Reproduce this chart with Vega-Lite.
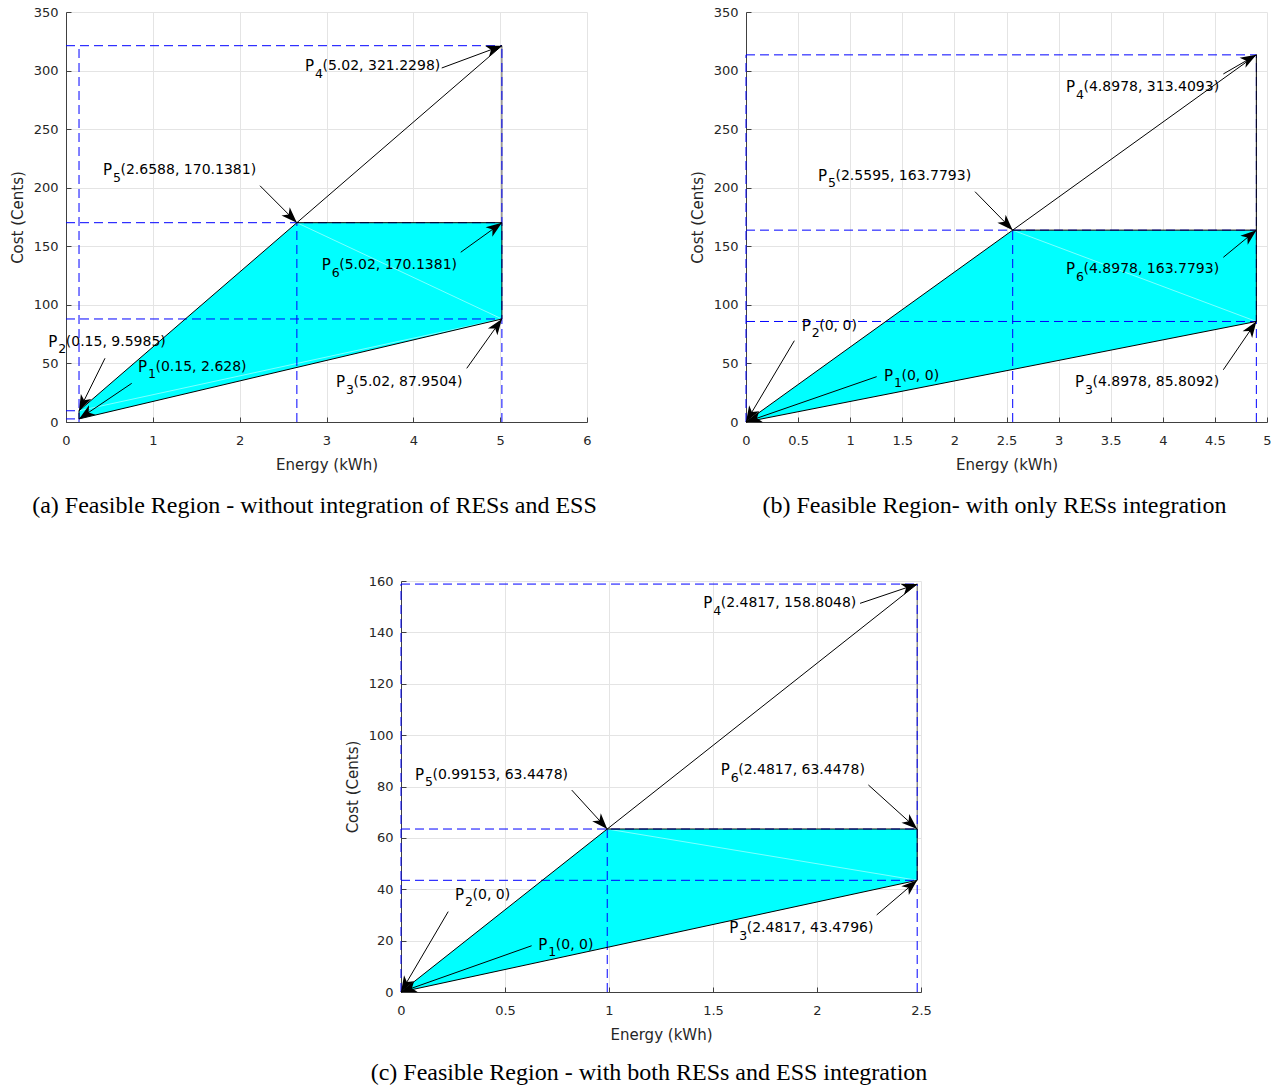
{
  "$schema": "https://vega.github.io/schema/vega-lite/v6.json",
  "background": "white",
  "padding": {"left": 10, "top": 6, "right": 2, "bottom": 0},
  "config": {
    "view": {"stroke": null},
    "font": "DejaVu Sans",
    "axis": {
      "grid": true, "gridColor": "#e4e4e4", "gridWidth": 1,
      "domainColor": "#404040", "domainWidth": 1,
      "tickColor": "#404040", "tickSize": -5, "tickWidth": 1,
      "labelFont": "DejaVu Sans", "labelFontSize": 13, "labelColor": "#262626",
      "labelFlush": false, "labelOverlap": false,
      "titleFont": "DejaVu Sans", "titleFontSize": 15, "titleFontWeight": "normal", "titleColor": "#262626"
    },
    "axisX": {"labelPadding": 17, "titlePadding": 10},
    "axisY": {"labelPadding": 13, "titlePadding": 8},
    "title": {"font": "Liberation Serif", "fontSize": 24, "fontWeight": "normal", "color": "#000000"}
  },
  "datasets": {
    "poly": [
      {"p": "a", "k": 1, "x": 0.15, "y": 2.628},
      {"p": "a", "k": 2, "x": 0.15, "y": 9.5985},
      {"p": "a", "k": 3, "x": 2.6588, "y": 170.1381},
      {"p": "a", "k": 4, "x": 5.02, "y": 170.1381},
      {"p": "a", "k": 5, "x": 5.02, "y": 87.9504},
      {"p": "b", "k": 1, "x": 0, "y": 0},
      {"p": "b", "k": 2, "x": 2.5595, "y": 163.7793},
      {"p": "b", "k": 3, "x": 4.8978, "y": 163.7793},
      {"p": "b", "k": 4, "x": 4.8978, "y": 85.8092},
      {"p": "c", "k": 1, "x": 0, "y": 0},
      {"p": "c", "k": 2, "x": 0.99153, "y": 63.4478},
      {"p": "c", "k": 3, "x": 2.4817, "y": 63.4478},
      {"p": "c", "k": 4, "x": 2.4817, "y": 43.4796}
    ],
    "seam": [
      {"p": "a", "x": 0.15, "y": 9.5985, "x2": 5.02, "y2": 87.9504},
      {"p": "a", "x": 2.6588, "y": 170.1381, "x2": 5.02, "y2": 87.9504},
      {"p": "b", "x": 2.5595, "y": 163.7793, "x2": 4.8978, "y2": 85.8092},
      {"p": "c", "x": 0.99153, "y": 63.4478, "x2": 2.4817, "y2": 43.4796}
    ],
    "gray": [
      {"p": "a", "x": 5.02, "y": 321.2298, "x2": 5.02, "y2": 170.1381},
      {"p": "c", "x": 2.4817, "y": 158.8048, "x2": 2.4817, "y2": 63.4478}
    ],
    "dash": [
      {"p": "a", "x": 0, "y": 321.2298, "x2": 5.02, "y2": 321.2298},
      {"p": "a", "x": 0, "y": 170.1381, "x2": 5.02, "y2": 170.1381},
      {"p": "a", "x": 0, "y": 87.9504, "x2": 5.02, "y2": 87.9504},
      {"p": "a", "x": 0, "y": 9.5985, "x2": 0.15, "y2": 9.5985},
      {"p": "a", "x": 0, "y": 2.628, "x2": 0.15, "y2": 2.628},
      {"p": "a", "x": 0.15, "y": 0, "x2": 0.15, "y2": 321.2298},
      {"p": "a", "x": 2.6588, "y": 0, "x2": 2.6588, "y2": 170.1381},
      {"p": "a", "x": 5.02, "y": 0, "x2": 5.02, "y2": 321.2298},
      {"p": "b", "x": 0, "y": 313.4093, "x2": 4.8978, "y2": 313.4093},
      {"p": "b", "x": 0, "y": 163.7793, "x2": 4.8978, "y2": 163.7793},
      {"p": "b", "x": 0, "y": 85.8092, "x2": 4.8978, "y2": 85.8092},
      {"p": "b", "x": 0, "y": 0, "x2": 0, "y2": 313.4093},
      {"p": "b", "x": 2.5595, "y": 0, "x2": 2.5595, "y2": 163.7793},
      {"p": "b", "x": 4.8978, "y": 0, "x2": 4.8978, "y2": 313.4093},
      {"p": "c", "x": 0, "y": 158.8048, "x2": 2.4817, "y2": 158.8048},
      {"p": "c", "x": 0, "y": 63.4478, "x2": 2.4817, "y2": 63.4478},
      {"p": "c", "x": 0, "y": 43.4796, "x2": 2.4817, "y2": 43.4796},
      {"p": "c", "x": 0, "y": 0, "x2": 0, "y2": 158.8048},
      {"p": "c", "x": 0.99153, "y": 0, "x2": 0.99153, "y2": 63.4478},
      {"p": "c", "x": 2.4817, "y": 0, "x2": 2.4817, "y2": 158.8048}
    ],
    "edge": [
      {"p": "a", "x": 0.15, "y": 2.628, "x2": 5.02, "y2": 87.9504},
      {"p": "a", "x": 0.15, "y": 9.5985, "x2": 5.02, "y2": 321.2298},
      {"p": "a", "x": 2.6588, "y": 170.1381, "x2": 5.02, "y2": 170.1381},
      {"p": "a", "x": 5.02, "y": 170.1381, "x2": 5.02, "y2": 87.9504},
      {"p": "a", "x": 0.15, "y": 2.628, "x2": 0.15, "y2": 9.5985},
      {"p": "b", "x": 0, "y": 0, "x2": 4.8978, "y2": 85.8092},
      {"p": "b", "x": 0, "y": 0, "x2": 4.8978, "y2": 313.4093},
      {"p": "b", "x": 2.5595, "y": 163.7793, "x2": 4.8978, "y2": 163.7793},
      {"p": "b", "x": 4.8978, "y": 313.4093, "x2": 4.8978, "y2": 85.8092},
      {"p": "c", "x": 0, "y": 0, "x2": 2.4817, "y2": 43.4796},
      {"p": "c", "x": 0, "y": 0, "x2": 2.4817, "y2": 158.8048},
      {"p": "c", "x": 0.99153, "y": 63.4478, "x2": 2.4817, "y2": 63.4478},
      {"p": "c", "x": 2.4817, "y": 63.4478, "x2": 2.4817, "y2": 43.4796}
    ],
    "arrows": [
      {"p": "a", "x": 5.02, "y": 321.2298, "x2": 4.327, "y2": 302.2},
      {"p": "a", "x": 2.6588, "y": 170.1381, "x2": 2.234, "y2": 201.7},
      {"p": "a", "x": 5.02, "y": 170.1381, "x2": 4.546, "y2": 144.9},
      {"p": "a", "x": 5.02, "y": 87.9504, "x2": 4.615, "y2": 45.8},
      {"p": "a", "x": 0.15, "y": 9.5985, "x2": 0.449, "y2": 54.4},
      {"p": "a", "x": 0.15, "y": 2.628, "x2": 0.757, "y2": 33.0},
      {"p": "b", "x": 4.8978, "y": 313.4093, "x2": 4.581, "y2": 297.1},
      {"p": "b", "x": 2.5595, "y": 163.7793, "x2": 2.198, "y2": 196.6},
      {"p": "b", "x": 4.8978, "y": 163.7793, "x2": 4.581, "y2": 140.6},
      {"p": "b", "x": 4.8978, "y": 85.8092, "x2": 4.581, "y2": 44.6},
      {"p": "b", "x": 0, "y": 0, "x2": 0.464, "y2": 69.4},
      {"p": "b", "x": 0, "y": 0, "x2": 1.254, "y2": 38.7},
      {"p": "c", "x": 2.4817, "y": 158.8048, "x2": 2.207, "y2": 151.3},
      {"p": "c", "x": 0.99153, "y": 63.4478, "x2": 0.821, "y2": 78.6},
      {"p": "c", "x": 2.4817, "y": 63.4478, "x2": 2.247, "y2": 80.6},
      {"p": "c", "x": 2.4817, "y": 43.4796, "x2": 2.287, "y2": 30.0},
      {"p": "c", "x": 0, "y": 0, "x2": 0.227, "y2": 31.3},
      {"p": "c", "x": 0, "y": 0, "x2": 0.628, "y2": 18.0}
    ],
    "labels": [
      {"p": "a", "n": "4", "t": "(5.02, 321.2298)", "x": 2.752, "y": 303.9},
      {"p": "a", "n": "5", "t": "(2.6588, 170.1381)", "x": 0.426, "y": 215.1},
      {"p": "a", "n": "6", "t": "(5.02, 170.1381)", "x": 2.945, "y": 133.6},
      {"p": "a", "n": "3", "t": "(5.02, 87.9504)", "x": 3.11, "y": 34.1},
      {"p": "a", "n": "2", "t": "(0.15, 9.5985)", "x": -0.204, "y": 68.3},
      {"p": "a", "n": "1", "t": "(0.15, 2.628)", "x": 0.829, "y": 47.0},
      {"p": "b", "n": "4", "t": "(4.8978, 313.4093)", "x": 3.071, "y": 285.7},
      {"p": "b", "n": "5", "t": "(2.5595, 163.7793)", "x": 0.691, "y": 210.3},
      {"p": "b", "n": "6", "t": "(4.8978, 163.7793)", "x": 3.071, "y": 130.6},
      {"p": "b", "n": "3", "t": "(4.8978, 85.8092)", "x": 3.157, "y": 33.9},
      {"p": "b", "n": "2", "t": "(0, 0)", "x": 0.535, "y": 82.2},
      {"p": "b", "n": "1", "t": "(0, 0)", "x": 1.324, "y": 39.5},
      {"p": "c", "n": "4", "t": "(2.4817, 158.8048)", "x": 1.453, "y": 151.3},
      {"p": "c", "n": "5", "t": "(0.99153, 63.4478)", "x": 0.067, "y": 84.5},
      {"p": "c", "n": "6", "t": "(2.4817, 63.4478)", "x": 1.537, "y": 86.4},
      {"p": "c", "n": "3", "t": "(2.4817, 43.4796)", "x": 1.578, "y": 24.8},
      {"p": "c", "n": "2", "t": "(0, 0)", "x": 0.26, "y": 37.8},
      {"p": "c", "n": "1", "t": "(0, 0)", "x": 0.66, "y": 18.3}
    ]
  },
  "spacing": 57,
  "vconcat": [
    {
      "bounds": "flush",
      "spacing": 159,
      "hconcat": [
        {
          "width": 521, "height": 410,
          "title": {"text": "(a) Feasible Region - without integration of RESs and ESS", "orient": "bottom", "anchor": "middle", "frame": "group", "dx": -12, "offset": 22},
          "encoding": {
            "x": {"field": "x", "type": "quantitative", "scale": {"domain": [0, 6], "nice": false, "zero": false}, "axis": {"title": "Energy (kWh)", "values": [0, 1, 2, 3, 4, 5, 6], "format": ".6~g"}},
            "y": {"field": "y", "type": "quantitative", "scale": {"domain": [0, 350], "nice": false, "zero": false}, "axis": {"title": "Cost (Cents)", "values": [0, 50, 100, 150, 200, 250, 300, 350], "format": ".6~g"}}
          },
          "layer": [
            {"data": {"name": "poly"}, "transform": [{"filter": "datum.p == 'a'"}], "mark": {"type": "line", "filled": true, "color": "#00ffff", "strokeWidth": 0}, "encoding": {"order": {"field": "k", "type": "quantitative"}}},
            {"data": {"name": "seam"}, "transform": [{"filter": "datum.p == 'a'"}], "mark": {"type": "rule", "color": "#d4ffff", "strokeWidth": 0.6}, "encoding": {"x2": {"field": "x2"}, "y2": {"field": "y2"}}},
            {"data": {"name": "gray"}, "transform": [{"filter": "datum.p == 'a'"}], "mark": {"type": "rule", "color": "#5a5a5a", "strokeWidth": 1}, "encoding": {"x2": {"field": "x2"}, "y2": {"field": "y2"}}},
            {"data": {"name": "dash"}, "transform": [{"filter": "datum.p == 'a'"}], "mark": {"type": "rule", "color": "#0000ff", "strokeWidth": 1, "strokeDash": [9, 5]}, "encoding": {"x2": {"field": "x2"}, "y2": {"field": "y2"}}},
            {"data": {"name": "edge"}, "transform": [{"filter": "datum.p == 'a'"}], "mark": {"type": "rule", "color": "#000000", "strokeWidth": 1}, "encoding": {"x2": {"field": "x2"}, "y2": {"field": "y2"}}},
            {"data": {"name": "arrows"}, "transform": [{"filter": "datum.p == 'a'"}], "mark": {"type": "rule", "color": "#000000", "strokeWidth": 1}, "encoding": {"x2": {"field": "x2"}, "y2": {"field": "y2"}}},
            {"data": {"name": "arrows"}, "transform": [{"filter": "datum.p == 'a'"}, {"calculate": "atan2((datum.x - datum.x2) * 86.8333, (datum.y - datum.y2) * 1.171429) * 180 / PI", "as": "ang"}], "mark": {"type": "point", "shape": "M0,0L0.8,2.2L0,1.6L-0.8,2.2Z", "filled": true, "color": "#000000", "opacity": 1, "size": 210, "strokeWidth": 0}, "encoding": {"angle": {"field": "ang", "type": "quantitative", "scale": null}}},
            {"data": {"name": "labels"}, "transform": [{"filter": "datum.p == 'a'"}], "mark": {"type": "text", "text": "P", "align": "left", "baseline": "middle", "fontSize": 15, "color": "#000000"}},
            {"data": {"name": "labels"}, "transform": [{"filter": "datum.p == 'a'"}], "mark": {"type": "text", "align": "left", "baseline": "middle", "fontSize": 12.5, "dx": 10, "dy": 7.5, "color": "#000000"}, "encoding": {"text": {"field": "n"}}},
            {"data": {"name": "labels"}, "transform": [{"filter": "datum.p == 'a'"}], "mark": {"type": "text", "align": "left", "baseline": "middle", "fontSize": 14, "dx": 17.5, "color": "#000000"}, "encoding": {"text": {"field": "t"}}}
          ]
        },
        {
          "width": 521, "height": 410,
          "title": {"text": "(b) Feasible Region- with only RESs integration", "orient": "bottom", "anchor": "middle", "frame": "group", "dx": -12, "offset": 22},
          "encoding": {
            "x": {"field": "x", "type": "quantitative", "scale": {"domain": [0, 5], "nice": false, "zero": false}, "axis": {"title": "Energy (kWh)", "values": [0, 0.5, 1, 1.5, 2, 2.5, 3, 3.5, 4, 4.5, 5], "format": ".6~g"}},
            "y": {"field": "y", "type": "quantitative", "scale": {"domain": [0, 350], "nice": false, "zero": false}, "axis": {"title": "Cost (Cents)", "values": [0, 50, 100, 150, 200, 250, 300, 350], "format": ".6~g"}}
          },
          "layer": [
            {"data": {"name": "poly"}, "transform": [{"filter": "datum.p == 'b'"}], "mark": {"type": "line", "filled": true, "color": "#00ffff", "strokeWidth": 0}, "encoding": {"order": {"field": "k", "type": "quantitative"}}},
            {"data": {"name": "seam"}, "transform": [{"filter": "datum.p == 'b'"}], "mark": {"type": "rule", "color": "#d4ffff", "strokeWidth": 0.6}, "encoding": {"x2": {"field": "x2"}, "y2": {"field": "y2"}}},
            {"data": {"name": "dash"}, "transform": [{"filter": "datum.p == 'b'"}], "mark": {"type": "rule", "color": "#0000ff", "strokeWidth": 1, "strokeDash": [9, 5]}, "encoding": {"x2": {"field": "x2"}, "y2": {"field": "y2"}}},
            {"data": {"name": "edge"}, "transform": [{"filter": "datum.p == 'b'"}], "mark": {"type": "rule", "color": "#000000", "strokeWidth": 1}, "encoding": {"x2": {"field": "x2"}, "y2": {"field": "y2"}}},
            {"data": {"name": "arrows"}, "transform": [{"filter": "datum.p == 'b'"}], "mark": {"type": "rule", "color": "#000000", "strokeWidth": 1}, "encoding": {"x2": {"field": "x2"}, "y2": {"field": "y2"}}},
            {"data": {"name": "arrows"}, "transform": [{"filter": "datum.p == 'b'"}, {"calculate": "atan2((datum.x - datum.x2) * 104.2, (datum.y - datum.y2) * 1.171429) * 180 / PI", "as": "ang"}], "mark": {"type": "point", "shape": "M0,0L0.8,2.2L0,1.6L-0.8,2.2Z", "filled": true, "color": "#000000", "opacity": 1, "size": 210, "strokeWidth": 0}, "encoding": {"angle": {"field": "ang", "type": "quantitative", "scale": null}}},
            {"data": {"name": "labels"}, "transform": [{"filter": "datum.p == 'b'"}], "mark": {"type": "text", "text": "P", "align": "left", "baseline": "middle", "fontSize": 15, "color": "#000000"}},
            {"data": {"name": "labels"}, "transform": [{"filter": "datum.p == 'b'"}], "mark": {"type": "text", "align": "left", "baseline": "middle", "fontSize": 12.5, "dx": 10, "dy": 7.5, "color": "#000000"}, "encoding": {"text": {"field": "n"}}},
            {"data": {"name": "labels"}, "transform": [{"filter": "datum.p == 'b'"}], "mark": {"type": "text", "align": "left", "baseline": "middle", "fontSize": 14, "dx": 17.5, "color": "#000000"}, "encoding": {"text": {"field": "t"}}}
          ]
        }
      ]
    },
    {
      "bounds": "flush",
      "spacing": 0,
      "hconcat": [
        {"width": 335, "height": 411, "data": {"values": []}, "mark": {"type": "point", "opacity": 0}},
        {
          "width": 520, "height": 411,
          "title": {"text": "(c) Feasible Region - with both RESs and ESS integration", "orient": "bottom", "anchor": "middle", "frame": "group", "dx": -12, "offset": 19},
          "encoding": {
            "x": {"field": "x", "type": "quantitative", "scale": {"domain": [0, 2.5], "nice": false, "zero": false}, "axis": {"title": "Energy (kWh)", "values": [0, 0.5, 1, 1.5, 2, 2.5], "format": ".6~g"}},
            "y": {"field": "y", "type": "quantitative", "scale": {"domain": [0, 160], "nice": false, "zero": false}, "axis": {"title": "Cost (Cents)", "values": [0, 20, 40, 60, 80, 100, 120, 140, 160], "format": ".6~g"}}
          },
          "layer": [
            {"data": {"name": "poly"}, "transform": [{"filter": "datum.p == 'c'"}], "mark": {"type": "line", "filled": true, "color": "#00ffff", "strokeWidth": 0}, "encoding": {"order": {"field": "k", "type": "quantitative"}}},
            {"data": {"name": "seam"}, "transform": [{"filter": "datum.p == 'c'"}], "mark": {"type": "rule", "color": "#d4ffff", "strokeWidth": 0.6}, "encoding": {"x2": {"field": "x2"}, "y2": {"field": "y2"}}},
            {"data": {"name": "gray"}, "transform": [{"filter": "datum.p == 'c'"}], "mark": {"type": "rule", "color": "#5a5a5a", "strokeWidth": 1}, "encoding": {"x2": {"field": "x2"}, "y2": {"field": "y2"}}},
            {"data": {"name": "dash"}, "transform": [{"filter": "datum.p == 'c'"}], "mark": {"type": "rule", "color": "#0000ff", "strokeWidth": 1, "strokeDash": [9, 5]}, "encoding": {"x2": {"field": "x2"}, "y2": {"field": "y2"}}},
            {"data": {"name": "edge"}, "transform": [{"filter": "datum.p == 'c'"}], "mark": {"type": "rule", "color": "#000000", "strokeWidth": 1}, "encoding": {"x2": {"field": "x2"}, "y2": {"field": "y2"}}},
            {"data": {"name": "arrows"}, "transform": [{"filter": "datum.p == 'c'"}], "mark": {"type": "rule", "color": "#000000", "strokeWidth": 1}, "encoding": {"x2": {"field": "x2"}, "y2": {"field": "y2"}}},
            {"data": {"name": "arrows"}, "transform": [{"filter": "datum.p == 'c'"}, {"calculate": "atan2((datum.x - datum.x2) * 208, (datum.y - datum.y2) * 2.56875) * 180 / PI", "as": "ang"}], "mark": {"type": "point", "shape": "M0,0L0.8,2.2L0,1.6L-0.8,2.2Z", "filled": true, "color": "#000000", "opacity": 1, "size": 210, "strokeWidth": 0}, "encoding": {"angle": {"field": "ang", "type": "quantitative", "scale": null}}},
            {"data": {"name": "labels"}, "transform": [{"filter": "datum.p == 'c'"}], "mark": {"type": "text", "text": "P", "align": "left", "baseline": "middle", "fontSize": 15, "color": "#000000"}},
            {"data": {"name": "labels"}, "transform": [{"filter": "datum.p == 'c'"}], "mark": {"type": "text", "align": "left", "baseline": "middle", "fontSize": 12.5, "dx": 10, "dy": 7.5, "color": "#000000"}, "encoding": {"text": {"field": "n"}}},
            {"data": {"name": "labels"}, "transform": [{"filter": "datum.p == 'c'"}], "mark": {"type": "text", "align": "left", "baseline": "middle", "fontSize": 14, "dx": 17.5, "color": "#000000"}, "encoding": {"text": {"field": "t"}}}
          ]
        }
      ]
    }
  ]
}
